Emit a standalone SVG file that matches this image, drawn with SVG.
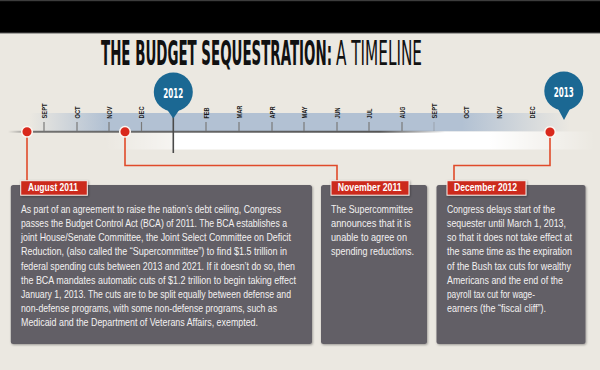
<svg xmlns="http://www.w3.org/2000/svg" width="600" height="370" viewBox="0 0 600 370">
<defs>
<style>
.title{font-family:"DejaVu Sans Condensed","Liberation Sans",sans-serif;fill:#111;}
.month{font-family:"Liberation Sans",sans-serif;font-weight:bold;font-size:7.5px;fill:#1a1a1a;}
.tick{stroke:#7a7a7a;stroke-width:1.2;}
.box{fill:#625e66;}
.body{font-family:"Liberation Sans",sans-serif;font-size:10.6px;fill:#f3f1f1;}
.tag{fill:#cc2a1e;stroke:#f4f1ec;stroke-width:1;}
.tagtxt{font-family:"Liberation Sans",sans-serif;font-weight:bold;font-size:11px;fill:#fff;}
.conn{fill:none;stroke:#e04a2a;stroke-width:1.6;}
.dot{fill:#d9281c;stroke:#fbf7f2;stroke-width:1.5;}
.pin{fill:#1b6893;}
.year{font-family:"DejaVu Sans Condensed","Liberation Sans",sans-serif;font-weight:bold;font-size:14px;fill:#fff;}
</style>
<linearGradient id="blueBand" gradientUnits="userSpaceOnUse" x1="30" y1="0" x2="570" y2="0">
<stop offset="0" stop-color="#b2c1d3" stop-opacity="0"/>
<stop offset="0.14" stop-color="#b2c1d3" stop-opacity="1"/>
<stop offset="0.8" stop-color="#b2c1d3" stop-opacity="1"/>
<stop offset="1" stop-color="#b2c1d3" stop-opacity="0"/>
</linearGradient>
<linearGradient id="whiteLeft" gradientUnits="userSpaceOnUse" x1="105" y1="0" x2="173" y2="0">
<stop offset="0" stop-color="#ffffff" stop-opacity="0"/>
<stop offset="1" stop-color="#ffffff" stop-opacity="0.55"/>
</linearGradient>
<linearGradient id="whiteRight" gradientUnits="userSpaceOnUse" x1="173" y1="0" x2="595" y2="0">
<stop offset="0" stop-color="#ffffff" stop-opacity="1"/>
<stop offset="0.75" stop-color="#ffffff" stop-opacity="1"/>
<stop offset="1" stop-color="#ffffff" stop-opacity="0"/>
</linearGradient>
<linearGradient id="lineGrad" gradientUnits="userSpaceOnUse" x1="8" y1="0" x2="445" y2="0">
<stop offset="0" stop-color="#555" stop-opacity="0"/>
<stop offset="0.06" stop-color="#555" stop-opacity="0.8"/>
<stop offset="0.85" stop-color="#555" stop-opacity="1"/>
<stop offset="1" stop-color="#555" stop-opacity="0"/>
</linearGradient>
<filter id="sh" x="-10%" y="-20%" width="120%" height="150%">
<feDropShadow dx="0.8" dy="1" stdDeviation="0.8" flood-color="#000" flood-opacity="0.35"/>
</filter>
</defs>

<rect x="0" y="0" width="600" height="370" fill="#ebe8e1"/>
<rect x="0" y="0" width="600" height="33" fill="#000"/>
<rect x="0" y="0" width="600" height="1.2" fill="#3c3c3c"/>
<rect x="0" y="32.5" width="600" height="1" fill="#5a5a5a"/>

<g id="title">
<text class="title" x="101" y="65" font-size="33" font-weight="bold" textLength="231" lengthAdjust="spacingAndGlyphs">THE BUDGET SEQUESTRATION:</text>
<text class="title" x="336" y="65" font-size="33" textLength="86" lengthAdjust="spacingAndGlyphs">A TIMELINE</text>
</g>

<g id="timeline">
<rect x="30" y="113" width="540" height="18.5" fill="url(#blueBand)"/>
<rect x="105" y="131.5" width="68" height="18" fill="url(#whiteLeft)"/>
<rect x="173" y="131.5" width="422" height="18" fill="url(#whiteRight)"/>
<line x1="8" y1="131.7" x2="445" y2="131.7" stroke="url(#lineGrad)" stroke-width="2"/>
<g>
<line class="tick" x1="44" y1="122" x2="44" y2="131"/>
<line class="tick" x1="77" y1="122" x2="77" y2="131"/>
<line class="tick" x1="109" y1="122" x2="109" y2="131"/>
<line class="tick" x1="141.5" y1="122" x2="141.5" y2="131"/>
<line class="tick" x1="206" y1="122" x2="206" y2="131"/>
<line class="tick" x1="239" y1="122" x2="239" y2="131"/>
<line class="tick" x1="272" y1="122" x2="272" y2="131"/>
<line class="tick" x1="304" y1="122" x2="304" y2="131"/>
<line class="tick" x1="337" y1="122" x2="337" y2="131"/>
<line class="tick" x1="369" y1="122" x2="369" y2="131"/>
<line class="tick" x1="402" y1="122" x2="402" y2="131"/>
<line class="tick" x1="434" y1="122" x2="434" y2="131" opacity="0.35"/>
</g>
<g>
<text class="month" transform="translate(46.8,118.5) rotate(-90)" textLength="15" lengthAdjust="spacingAndGlyphs">SEPT</text>
<text class="month" transform="translate(79.8,118.5) rotate(-90)" textLength="12" lengthAdjust="spacingAndGlyphs">OCT</text>
<text class="month" transform="translate(111.8,118.5) rotate(-90)" textLength="12" lengthAdjust="spacingAndGlyphs">NOV</text>
<text class="month" transform="translate(144.3,118.5) rotate(-90)" textLength="12" lengthAdjust="spacingAndGlyphs">DEC</text>
<text class="month" transform="translate(208.8,118.5) rotate(-90)" textLength="11" lengthAdjust="spacingAndGlyphs">FEB</text>
<text class="month" transform="translate(241.8,118.5) rotate(-90)" textLength="13" lengthAdjust="spacingAndGlyphs">MAR</text>
<text class="month" transform="translate(274.8,118.5) rotate(-90)" textLength="12" lengthAdjust="spacingAndGlyphs">APR</text>
<text class="month" transform="translate(306.8,118.5) rotate(-90)" textLength="12" lengthAdjust="spacingAndGlyphs">MAY</text>
<text class="month" transform="translate(339.8,118.5) rotate(-90)" textLength="11" lengthAdjust="spacingAndGlyphs">JUN</text>
<text class="month" transform="translate(371.8,118.5) rotate(-90)" textLength="10" lengthAdjust="spacingAndGlyphs">JUL</text>
<text class="month" transform="translate(404.8,118.5) rotate(-90)" textLength="12" lengthAdjust="spacingAndGlyphs">AUG</text>
<text class="month" transform="translate(436.8,118.5) rotate(-90)" textLength="15" lengthAdjust="spacingAndGlyphs">SEPT</text>
<text class="month" transform="translate(468.8,118.5) rotate(-90)" textLength="12" lengthAdjust="spacingAndGlyphs">OCT</text>
<text class="month" transform="translate(501.8,118.5) rotate(-90)" textLength="12" lengthAdjust="spacingAndGlyphs">NOV</text>
<text class="month" transform="translate(534.8,118.5) rotate(-90)" textLength="12" lengthAdjust="spacingAndGlyphs">DEC</text>
</g>
</g>

<g id="marker-2012">
<line x1="173.3" y1="112" x2="173.3" y2="153" stroke="#4a4a4a" stroke-width="1.6"/>
<circle class="pin" cx="173.3" cy="92" r="19.5"/>
<path class="pin" d="M166 108 L180.6 108 L173.3 118.5 Z"/>
<text class="year" x="173.3" y="97.5" text-anchor="middle" textLength="20" lengthAdjust="spacingAndGlyphs">2012</text>
</g>

<g id="marker-2013">
<circle class="pin" cx="563.8" cy="91" r="19.5"/>
<path class="pin" d="M557 107 L571 107 L564 120 Z"/>
<text class="year" x="563.8" y="96.5" text-anchor="middle" textLength="20" lengthAdjust="spacingAndGlyphs">2013</text>
</g>

<g id="connectors">
<path class="conn" d="M27 132 V181"/>
<path class="conn" d="M125 132 V165.5 H337 V181"/>
<path class="conn" d="M550 132 V165.5 H454 V181"/>
<circle class="dot" cx="27" cy="131.7" r="5.3"/>
<circle class="dot" cx="125" cy="131.7" r="5.3"/>
<circle class="dot" cx="550" cy="132" r="5.3"/>
</g>

<g id="event-aug2011">
<rect class="box" x="10.8" y="185" width="301.2" height="159" rx="2.5" filter="url(#sh)"/>
<rect class="tag" x="20.7" y="180.7" width="66.6" height="14.5" filter="url(#sh)"/>
<text class="tagtxt" x="28" y="191.3" textLength="50" lengthAdjust="spacingAndGlyphs">August 2011</text>
<text class="body" x="21" y="212.8" textLength="260" lengthAdjust="spacingAndGlyphs">As part of an agreement to raise the nation’s debt ceiling, Congress</text>
<text class="body" x="21" y="227" textLength="266" lengthAdjust="spacingAndGlyphs">passes the Budget Control Act (BCA) of 2011. The BCA establishes a</text>
<text class="body" x="21" y="241.2" textLength="270" lengthAdjust="spacingAndGlyphs">joint House/Senate Committee, the Joint Select Committee on Deficit</text>
<text class="body" x="21" y="255.4" textLength="266" lengthAdjust="spacingAndGlyphs">Reduction, (also called the “Supercommittee”) to find $1.5 trillion in</text>
<text class="body" x="21" y="269.6" textLength="274" lengthAdjust="spacingAndGlyphs">federal spending cuts between 2013 and 2021. If it doesn’t do so, then</text>
<text class="body" x="21" y="283.8" textLength="275" lengthAdjust="spacingAndGlyphs">the BCA mandates automatic cuts of $1.2 trillion to begin taking effect</text>
<text class="body" x="21" y="298" textLength="270" lengthAdjust="spacingAndGlyphs">January 1, 2013. The cuts are to be split equally between defense and</text>
<text class="body" x="21" y="312.2" textLength="256" lengthAdjust="spacingAndGlyphs">non-defense programs, with some non-defense programs, such as</text>
<text class="body" x="21" y="326.4" textLength="237" lengthAdjust="spacingAndGlyphs">Medicaid and the Department of Veterans Affairs, exempted.</text>
</g>

<g id="event-nov2011">
<rect class="box" x="321" y="185" width="106" height="159" rx="2.5" filter="url(#sh)"/>
<rect class="tag" x="331" y="180.7" width="78" height="14.5" filter="url(#sh)"/>
<text class="tagtxt" x="337.7" y="191.3" textLength="64" lengthAdjust="spacingAndGlyphs">November 2011</text>
<text class="body" x="331" y="212.8" textLength="82" lengthAdjust="spacingAndGlyphs">The Supercommittee</text>
<text class="body" x="331" y="227" textLength="80" lengthAdjust="spacingAndGlyphs">announces that it is</text>
<text class="body" x="331" y="241.2" textLength="76" lengthAdjust="spacingAndGlyphs">unable to agree on</text>
<text class="body" x="331" y="255.4" textLength="83" lengthAdjust="spacingAndGlyphs">spending reductions.</text>
</g>

<g id="event-dec2012">
<rect class="box" x="436.5" y="185" width="149" height="159" rx="2.5" filter="url(#sh)"/>
<rect class="tag" x="447" y="180.7" width="79" height="14.5" filter="url(#sh)"/>
<text class="tagtxt" x="454" y="191.3" textLength="63" lengthAdjust="spacingAndGlyphs">December 2012</text>
<text class="body" x="447" y="212.8" textLength="108" lengthAdjust="spacingAndGlyphs">Congress delays start of the</text>
<text class="body" x="447" y="227" textLength="119" lengthAdjust="spacingAndGlyphs">sequester until March 1, 2013,</text>
<text class="body" x="447" y="241.2" textLength="125" lengthAdjust="spacingAndGlyphs">so that it does not take effect at</text>
<text class="body" x="447" y="255.4" textLength="125" lengthAdjust="spacingAndGlyphs">the same time as the expiration</text>
<text class="body" x="447" y="269.6" textLength="124" lengthAdjust="spacingAndGlyphs">of the Bush tax cuts for wealthy</text>
<text class="body" x="447" y="283.8" textLength="116" lengthAdjust="spacingAndGlyphs">Americans and the end of the</text>
<text class="body" x="447" y="298" textLength="88" lengthAdjust="spacingAndGlyphs">payroll tax cut for wage-</text>
<text class="body" x="447" y="312.2" textLength="99" lengthAdjust="spacingAndGlyphs">earners (the “fiscal cliff”).</text>
</g>
</svg>
